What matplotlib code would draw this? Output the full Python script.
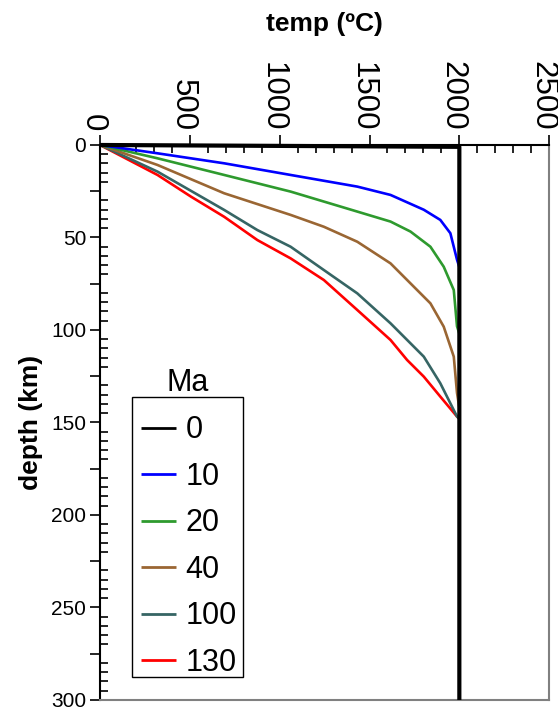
"""Oceanic lithosphere geotherms (temperature vs depth) for several plate ages."""

import matplotlib

matplotlib.use("Agg")
import matplotlib.pyplot as plt
from matplotlib.patches import Rectangle
from matplotlib.ticker import FuncFormatter, MultipleLocator
from matplotlib.transforms import ScaledTranslation

plt.rcParams["font.family"] = ["Liberation Sans", "DejaVu Sans"]

# plate age (Ma) -> (temperature degC, depth km)
ages = ["0", "10", "20", "40", "100", "130"]
colors = ["#000000", "#0000ff", "#2e9a2e", "#9a6633", "#366564", "#ff0000"]

temp_0 = [0, 2000, 2000]
depth_0 = [0, 1, 300]

temp_10 = [0, 320, 691, 1061, 1432, 1617, 1802, 1894, 1950, 1987, 2000]
depth_10 = [0, 4.5, 9.9, 16.2, 22.5, 27.0, 35.0, 40.5, 47.7, 62.0, 66.0]

temp_20 = [0, 320, 691, 1061, 1432, 1617, 1728, 1839, 1913, 1969, 1987, 2000]
depth_20 = [0, 7.2, 16.2, 25.2, 36.0, 41.4, 46.8, 55.0, 65.8, 78.4, 98.0, 102.0]

temp_40 = [0, 320, 691, 1061, 1246, 1432, 1617, 1728, 1839, 1913, 1969, 1987, 2000]
depth_40 = [0, 10.8, 26.1, 37.8, 44.2, 52.3, 64.0, 74.8, 85.6, 98.2, 114.4, 134.0, 142.0]

temp_100 = [0, 320, 691, 876, 1061, 1246, 1432, 1617, 1802, 1894, 1987, 2000]
depth_100 = [0, 14.4, 35.1, 46.0, 55.0, 67.6, 80.2, 96.4, 114.4, 128.8, 146.8, 148.0]

temp_130 = [0, 320, 506, 691, 876, 1061, 1246, 1432, 1617, 1709, 1802, 1894, 1987, 2000]
depth_130 = [0, 16.2, 27.9, 38.8, 51.4, 61.3, 73.0, 89.2, 105.4, 116.2, 125.2, 136.0, 146.8, 148.0]

temps = [temp_0, temp_10, temp_20, temp_40, temp_100, temp_130]
depths = [depth_0, depth_10, depth_20, depth_40, depth_100, depth_130]


def main() -> None:
    W, H = 558, 710
    fig = plt.figure(figsize=(W / 100, H / 100), dpi=100)
    ax = fig.add_axes([0.1792, 0.0141, 0.805, 0.7817])

    # draw the older plates first so the 0 Ma line sits on top
    handles = {}
    for age, color, t, z in reversed(list(zip(ages, colors, temps, depths))):
        lw = 3.0 if age == "0" else 1.9
        (line,) = ax.plot(t, z, color=color, linewidth=lw, clip_on=False,
                          solid_capstyle="butt", zorder=3 if age == "0" else 2)
        handles[age] = line

    ax.set_xlim(0, 2500)
    ax.set_ylim(300, 0)

    ax.xaxis.tick_top()
    ax.xaxis.set_label_position("top")
    ax.xaxis.set_major_locator(MultipleLocator(500))
    ax.xaxis.set_minor_locator(MultipleLocator(100))
    ax.yaxis.set_major_locator(MultipleLocator(25))
    ax.yaxis.set_minor_locator(MultipleLocator(5))
    ax.yaxis.set_major_formatter(FuncFormatter(lambda v, p: f"{int(v)}" if v % 50 == 0 else ""))

    ax.tick_params(axis="x", which="major", direction="out", length=7, width=1.2,
                   labelsize=22.5, pad=3, labelrotation=-90)
    ax.tick_params(axis="x", which="minor", direction="in", length=6, width=1.2)
    ax.tick_params(axis="y", which="major", direction="out", length=7, width=1.2,
                   labelsize=15, pad=3)
    ax.tick_params(axis="y", which="minor", direction="in", length=6, width=1.2)

    # top labels sit a touch left of their ticks in the reference
    shift = ScaledTranslation(-7 / 100, 0, fig.dpi_scale_trans)
    for lbl in ax.get_xticklabels():
        lbl.set_transform(lbl.get_transform() + shift)

    for side in ("left", "top"):
        ax.spines[side].set_color("black")
        ax.spines[side].set_linewidth(1.5)
    for side in ("right", "bottom"):
        ax.spines[side].set_color("#808080")
        ax.spines[side].set_linewidth(1.5)

    ax.set_xlabel("temp (ºC)", fontsize=19, fontweight="bold", labelpad=22)
    ax.set_ylabel("depth (km)", fontsize=19, fontweight="bold", labelpad=6)

    # legend entries without frame; the box is drawn separately
    leg = ax.legend([handles[a] for a in ages], ages, loc="lower left",
                    bbox_to_anchor=(132 / W, 1 - 687 / H), bbox_transform=fig.transFigure,
                    borderaxespad=0, fontsize=22, frameon=False,
                    handlelength=1.15, handletextpad=0.3, labelspacing=0.54,
                    borderpad=0.3)
    for lh in leg.get_lines():
        lh.set_linewidth(2.0)
    leg.set_zorder(6)
    box = Rectangle((132 / W, 1 - 677 / H), 111 / W, 280 / H,
                    transform=fig.transFigure, facecolor="white",
                    edgecolor="black", linewidth=1.0, zorder=5, clip_on=False)
    ax.add_artist(box)
    fig.text(188 / W, 1 - 383 / H, "Ma", fontsize=22, ha="center", va="center")

    fig.savefig("out.png", dpi=100)
    plt.close(fig)


if __name__ == "__main__":
    main()
